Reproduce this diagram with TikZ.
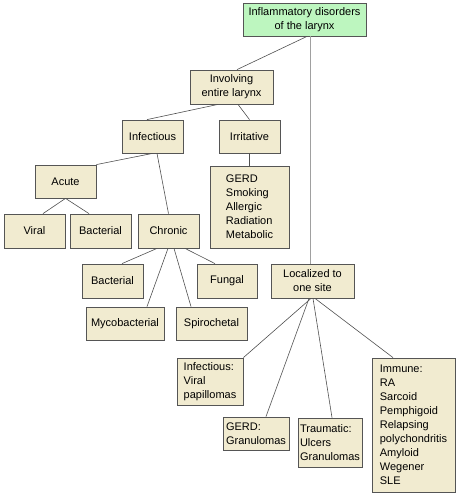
\documentclass[tikz,border=0pt]{standalone}
\usepackage{fontspec}
\setmainfont{Liberation Sans}
\usepackage{tikz}
\definecolor{boxfill}{RGB}{241,235,208}
\definecolor{rootfill}{RGB}{189,246,191}
\definecolor{boxline}{RGB}{85,85,85}
\definecolor{edgeline}{RGB}{80,80,80}
\definecolor{trunkline}{RGB}{160,160,160}

\begin{document}
\begin{tikzpicture}[x=1pt,y=-1pt]
  \tikzstyle{BoxStyle}=[draw=boxline,fill=boxfill,line width=0.8pt,
    inner sep=2pt,font=\fontsize{11}{14}\selectfont,align=center]
  \tikzstyle{ListStyle}=[BoxStyle,align=left]
  \tikzstyle{EdgeStyle}=[draw=edgeline,line width=0.6pt]
  \useasboundingbox (0,0) rectangle (460,497);
  % top
  \node[BoxStyle,fill=rootfill,minimum width=123pt,minimum height=33pt] (root) at (304.5,19.5) {Inflammatory disorders\\of the larynx};
  \node[BoxStyle,minimum width=83pt,minimum height=34pt] (entire) at (231.5,87) {Involving\\entire larynx};
  \node[BoxStyle,minimum width=61pt,minimum height=33pt] (infect) at (152.5,136.5) {Infectious};
  \node[BoxStyle,minimum width=61pt,minimum height=33pt] (irrit) at (249.5,136.5) {Irritative};
  \node[BoxStyle,minimum width=61pt,minimum height=33pt] (acute) at (65.5,181.5) {Acute};
  \node[BoxStyle,minimum width=61pt,minimum height=34pt] (viral) at (34.5,231) {Viral};
  \node[BoxStyle,minimum width=61pt,minimum height=34pt] (bactA) at (100.5,231) {Bacterial};
  \node[BoxStyle,minimum width=61pt,minimum height=34pt] (chronic) at (168.5,231) {Chronic};
  \node[ListStyle,minimum width=79pt,minimum height=82pt] (irritlist) at (249.5,207) {GERD\\Smoking\\Allergic\\Radiation\\Metabolic};
  % chronic
  \node[BoxStyle,minimum width=61pt,minimum height=34pt] (bactC) at (112.5,281) {Bacterial};
  \node[BoxStyle,minimum width=60pt,minimum height=34pt] (fungal) at (227,281) {Fungal};
  \node[BoxStyle,minimum width=78pt,minimum height=33pt] (myco) at (125,323.5) {Mycobacterial};
  \node[BoxStyle,minimum width=71pt,minimum height=33pt] (spiro) at (211.5,323.5) {Spirochetal};
  % localized
  \node[BoxStyle,minimum width=83pt,minimum height=34pt] (local) at (312.5,281) {Localized to\\one site};
  \node[ListStyle,minimum width=66pt,minimum height=47pt] (locinf) at (210,381.5) {Infectious:\\Viral\\papillomas};
  \node[ListStyle,minimum width=66pt,minimum height=33pt] (locgerd) at (256,433.5) {GERD:\\Granulomas};
  \node[ListStyle,minimum width=62pt,minimum height=49pt] (loctrauma) at (330,442.5) {Traumatic:\\Ulcers\\Granulomas};
  \node[ListStyle,minimum width=83pt,minimum height=134pt] (locimmune) at (413.5,425) {Immune:\\RA\\Sarcoid\\Pemphigoid\\Relapsing\\polychondritis\\Amyloid\\Wegener\\SLE};
  % edges
  \draw[draw=trunkline,line width=1pt] ([xshift=5.5pt]root.south) -- ([xshift=-2.5pt]local.north);
  \draw[EdgeStyle] ([xshift=2.5pt]root.south) -- ([xshift=5.5pt]entire.north);
  \draw[EdgeStyle] ([xshift=-13.5pt]entire.south) -- ([xshift=-5.5pt]infect.north);
  \draw[EdgeStyle] ([xshift=6.5pt]entire.south) -- (irrit.north);
  \draw[EdgeStyle] (irrit.south) -- (irritlist.north);
  \draw[EdgeStyle] (infect.south) -- (acute.north east);
  \draw[EdgeStyle] ([xshift=4.5pt]infect.south) -- (chronic.north);
  \draw[EdgeStyle] (acute.south) -- ([xshift=8.5pt]viral.north);
  \draw[EdgeStyle] (acute.south) -- ([xshift=-11.5pt]bactA.north);
  \draw[EdgeStyle] ([xshift=-11.5pt]chronic.south) -- ([xshift=9.5pt]bactC.north);
  \draw[EdgeStyle] ([xshift=-0.5pt]chronic.south) -- ([xshift=22pt]myco.north);
  \draw[EdgeStyle] ([xshift=5.5pt]chronic.south) -- ([xshift=-20.5pt]spiro.north);
  \draw[EdgeStyle] ([xshift=16.5pt]chronic.south) -- ([xshift=-12pt]fungal.north);
  \draw[EdgeStyle] ([xshift=-1.5pt]local.south) -- (locinf.north east);
  \draw[EdgeStyle] ([xshift=-3.5pt]local.south) -- ([xshift=10pt]locgerd.north);
  \draw[EdgeStyle] ([xshift=0.5pt]local.south) -- ([xshift=2pt]loctrauma.north);
  \draw[EdgeStyle] ([xshift=2.5pt]local.south) -- ([xshift=-20.5pt]locimmune.north);
\end{tikzpicture}
\end{document}
